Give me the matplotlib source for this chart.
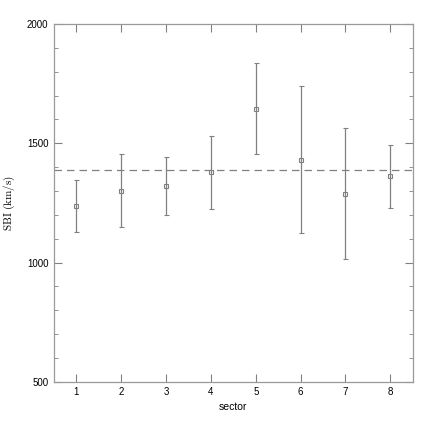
import matplotlib
matplotlib.use("Agg")
import matplotlib.pyplot as plt
import numpy as np

# values
sector = [1, 2, 3, 4, 5, 6, 7, 8]
sbi = [1238, 1300, 1321, 1379, 1645, 1430, 1289, 1362]
sbi_low = [1129, 1148, 1200, 1224, 1457, 1124, 1014, 1228]
sbi_high = [1345, 1454, 1444, 1531, 1835, 1739, 1563, 1494]
sbi_mean = 1388

plt.rcParams['mathtext.fontset'] = 'cm'
plt.rcParams['font.family'] = ['Liberation Sans', 'DejaVu Sans']

gray = '#808080'
fig = plt.figure(figsize=(4.36, 4.36), dpi=100)
ax = fig.add_axes([0.124, 0.124, 0.8226, 0.821])

err = [np.array(sbi) - np.array(sbi_low), np.array(sbi_high) - np.array(sbi)]
ax.errorbar(sector, sbi, yerr=err, fmt='s', ms=3, mfc='none', mec=gray, mew=0.8,
            ecolor=gray, elinewidth=0.9, capsize=1.8, capthick=0.8, zorder=3)
ax.axhline(sbi_mean, color=gray, linestyle=(0, (6, 4)), linewidth=0.9)

ax.set_xlim(0.5, 8.5)
ax.set_ylim(500, 2000)
ax.set_xticks(sector)
ax.set_yticks([500, 1000, 1500, 2000])
ax.set_yticks(np.arange(600, 2000, 100), minor=True)
ax.tick_params(axis='both', which='both', direction='in', top=True, right=True,
               color=gray, labelsize=7, pad=4)
ax.tick_params(axis='x', which='major', length=6)
ax.tick_params(axis='y', which='major', length=6)
ax.tick_params(axis='y', which='minor', length=3)
for s in ax.spines.values():
    s.set_color('#999999')
    s.set_linewidth(0.9)

ax.set_xlabel('sector', fontsize=7.5, labelpad=3)
ax.set_ylabel(r'$\mathrm{SBI\ (km/s)}$', fontsize=8)
ax.yaxis.set_label_coords(-0.103, 0.5)

plt.savefig("out.png", dpi=100)
